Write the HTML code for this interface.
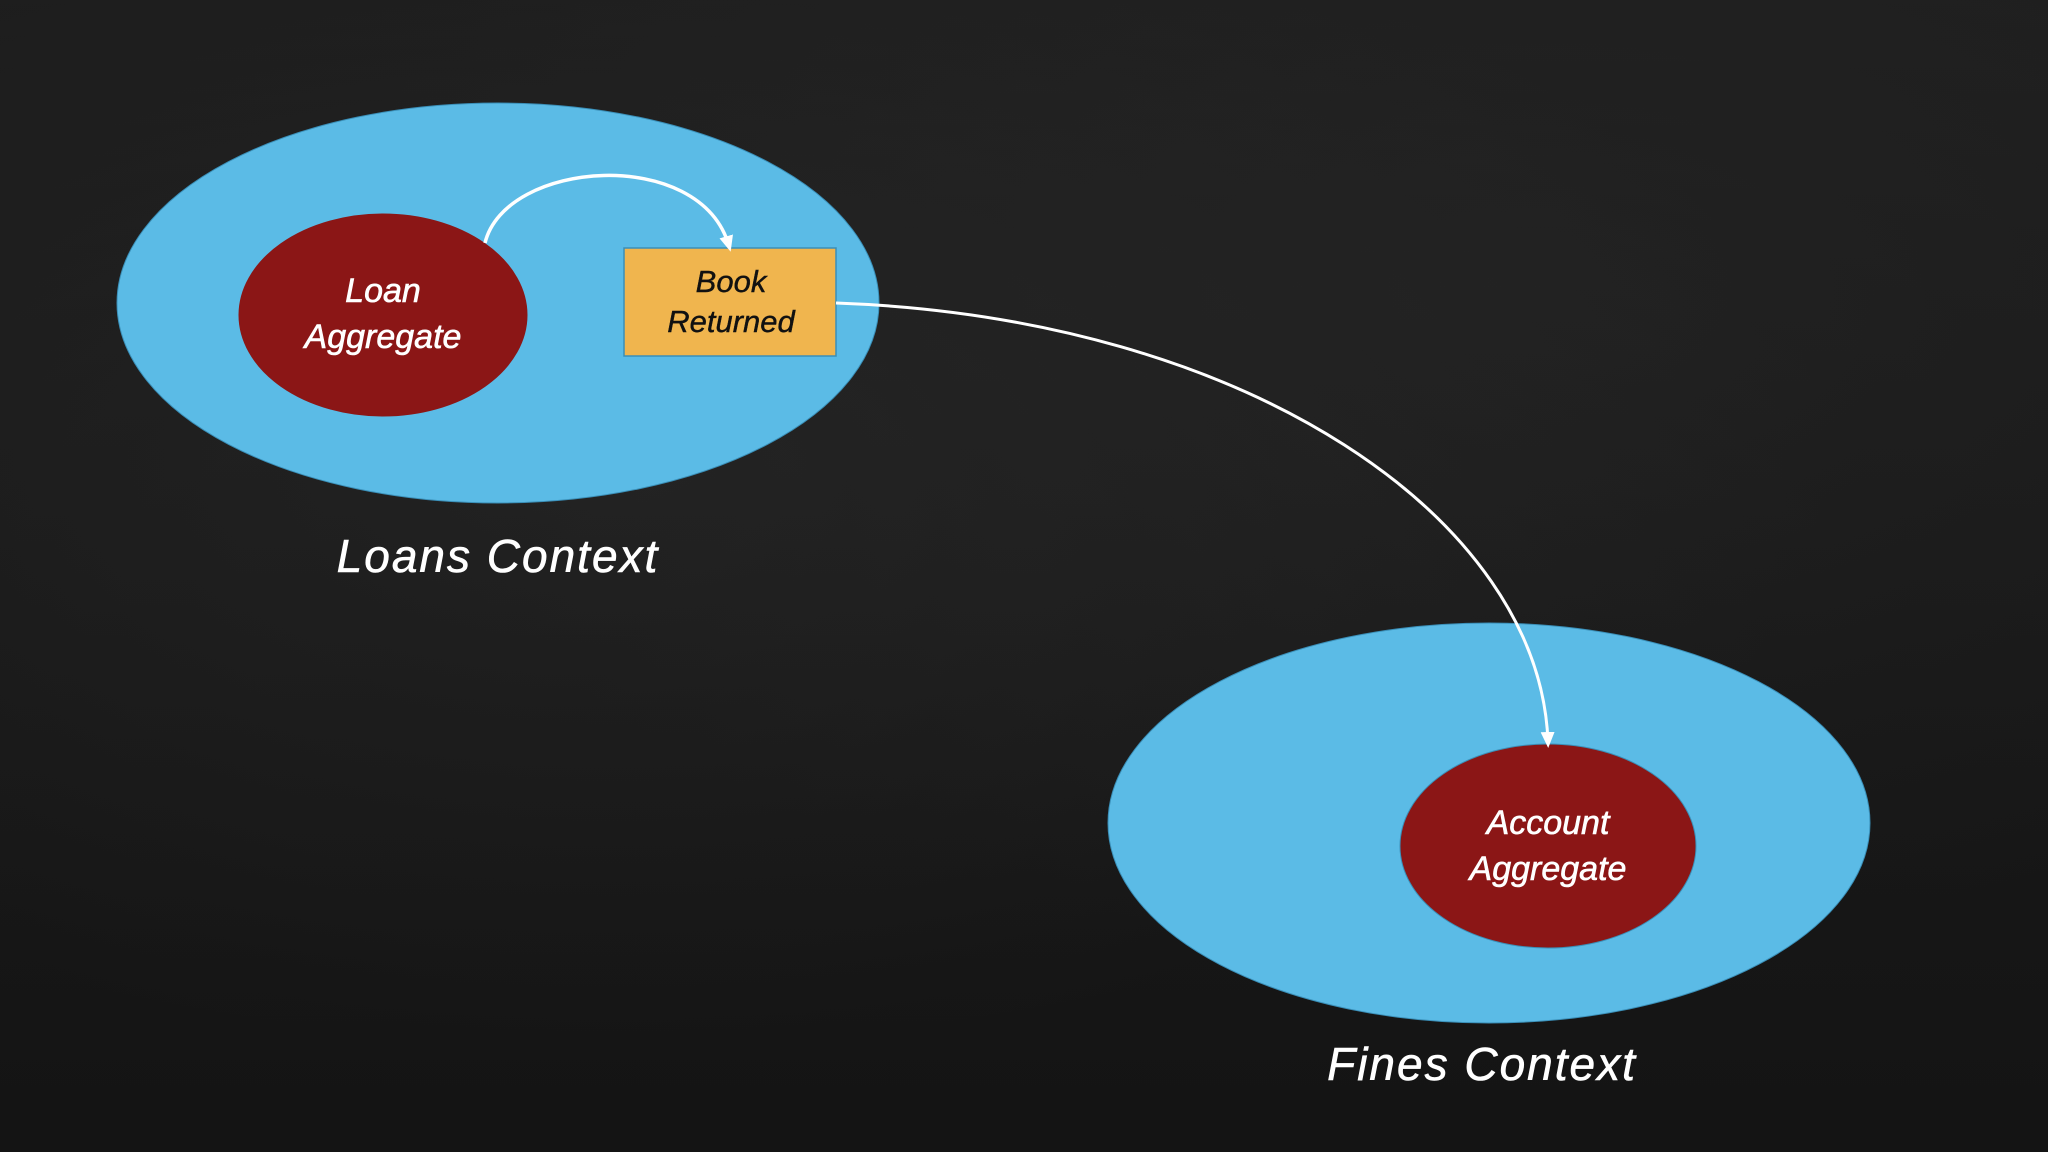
<!DOCTYPE html>
<html><head><meta charset="utf-8"><style>
html,body{margin:0;padding:0;}
body{width:2048px;height:1152px;overflow:hidden;background:#161616;}
#bg{position:absolute;left:0;top:0;width:2048px;height:1152px;
background:
radial-gradient(ellipse at 30% 40%, rgba(50,50,50,0.35), rgba(0,0,0,0) 60%),
radial-gradient(ellipse at 75% 25%, rgba(45,45,45,0.35), rgba(0,0,0,0) 55%),
linear-gradient(#1d1d1d,#141414);}
svg{position:absolute;left:0;top:0;}
text{font-family:"Liberation Sans",sans-serif;font-style:italic;}
</style></head><body>
<div id="bg"></div>
<svg width="2048" height="1152" viewBox="0 0 2048 1152">
<defs>
<marker id="ah" markerWidth="16" markerHeight="14" refX="10" refY="7" orient="auto" markerUnits="userSpaceOnUse">
<path d="M0,0 L16,7 L0,14 z" fill="#fff"/>
</marker>
</defs>
<ellipse cx="498" cy="303" rx="381" ry="200" fill="#5bbbe6" stroke="#3a8fb8" stroke-width="1"/>
<ellipse cx="383" cy="315" rx="145" ry="102" fill="#8b1616" stroke="#5bbbe6" stroke-width="1"/>
<text x="383" y="302" font-size="34" fill="#fff" text-anchor="middle" stroke="#fff" stroke-width="0.6">Loan</text>
<text x="383" y="348" font-size="34" fill="#fff" text-anchor="middle" stroke="#fff" stroke-width="0.6">Aggregate</text>
<rect x="624" y="248" width="212" height="108" fill="#f0b54e" stroke="#3a8fb8" stroke-width="1.5"/>
<text x="731" y="292" font-size="31" fill="#111" text-anchor="middle" stroke="#111" stroke-width="0.4">Book</text>
<text x="731" y="332" font-size="31" fill="#111" text-anchor="middle" stroke="#111" stroke-width="0.4">Returned</text>
<text x="498" y="572" font-size="46" fill="#fff" text-anchor="middle" letter-spacing="2" stroke="#fff" stroke-width="0.6">Loans  Context</text>

<ellipse cx="1489" cy="823" rx="381" ry="200" fill="#5bbbe6" stroke="#3a8fb8" stroke-width="1"/>
<ellipse cx="1548" cy="846" rx="148" ry="102" fill="#8b1616" stroke="#3a8fb8" stroke-width="1"/>
<text x="1548" y="834" font-size="34" fill="#fff" text-anchor="middle" stroke="#fff" stroke-width="0.6">Account</text>
<text x="1548" y="880" font-size="34" fill="#fff" text-anchor="middle" stroke="#fff" stroke-width="0.6">Aggregate</text>
<text x="1482" y="1080" font-size="46" fill="#fff" text-anchor="middle" letter-spacing="2" stroke="#fff" stroke-width="0.6">Fines  Context</text>

<path d="M485,243 C505,160 700,145 729,246" fill="none" stroke="#fff" stroke-width="3.5" marker-end="url(#ah)"/>
<path d="M836,303 C1250,318 1540,520 1548,742" fill="none" stroke="#fff" stroke-width="3" marker-end="url(#ah)"/>
</svg>
</body></html>
